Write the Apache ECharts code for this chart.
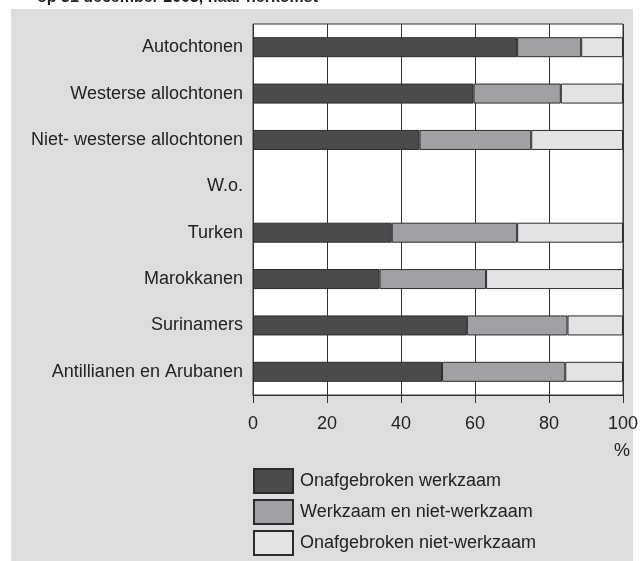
<!DOCTYPE html>
<html>
<head>
<meta charset="utf-8">
<script src="https://cdn.jsdelivr.net/npm/echarts@6/dist/echarts.min.js"></script>
<style>
  html, body { margin: 0; padding: 0; background: #fff; }
  #chart { width: 641px; height: 561px; }
</style>
</head>
<body>
<div id="chart"></div>
<script>
// herkomstgroepen, van boven naar beneden
const categories = [
  "Autochtonen",
  "Westerse allochtonen",
  "Niet- westerse allochtonen",
  "W.o.",
  "Turken",
  "Marokkanen",
  "Surinamers",
  "Antillianen en Arubanen"
]
// percentages (W.o. is alleen een kopje, geen balk)
const onafgebrokenWerkzaam = [71.4, 59.6, 45, null, 37.5, 34.2, 57.8, 51.1]
const werkzaamEnNiet = [17.3, 23.6, 30.2, null, 33.9, 28.8, 27.2, 33.3]
const onafgebrokenNiet = [11.3, 16.8, 24.8, null, 28.6, 37, 15, 15.6]
const xTicks = [0, 20, 40, 60, 80, 100]

const seriesNames = ["Onafgebroken werkzaam", "Werkzaam en niet-werkzaam", "Onafgebroken niet-werkzaam"]
const colors = ["#4a4b4d", "#a0a1a4", "#e2e3e5"]

const chart = echarts.init(document.getElementById("chart"))

function barSeries(name, data, color) {
  return {
    name: name,
    type: "bar",
    stack: "totaal",
    barWidth: 20,
    data: data,
    itemStyle: { color: color, borderColor: "#2b2b2b", borderWidth: 1 },
    emphasis: { disabled: true }
  }
}

// één legenda per reeks, onder elkaar
function legendItem(name, top) {
  return {
    left: 253, top: top,
    padding: 0,
    itemWidth: 39, itemHeight: 24,
    icon: "rect",
    data: [name],
    textStyle: { fontSize: 18, color: "#222", padding: [0, 0, 0, 2] },
    selectedMode: false
  }
}

chart.setOption({
  animation: false,
  textStyle: { fontFamily: "Liberation Sans, Arial, sans-serif" },
  graphic: [
    {
      type: "rect", z: -10, silent: true,
      shape: { x: 11, y: 9, width: 622, height: 552 },
      style: { fill: "#dcdddf" }
    },
    {
      type: "text", left: 37, top: -10,
      style: { text: "op 31 december 2003, naar herkomst", font: "bold 16px Liberation Sans, Arial", fill: "#222" }
    },
    {
      type: "text", right: 11, top: 442,
      style: { text: "%", font: "18px Liberation Sans, Arial", fill: "#222" }
    }
  ],
  grid: {
    left: 253, right: 18, top: 24, bottom: 166,
    show: true, backgroundColor: "#fff", borderColor: "#333", borderWidth: 1
  },
  legend: [
    legendItem(seriesNames[0], 468),
    legendItem(seriesNames[1], 499),
    legendItem(seriesNames[2], 530)
  ],
  xAxis: {
    type: "value",
    min: xTicks[0], max: xTicks[xTicks.length - 1], interval: 20,
    axisLine: { show: true, lineStyle: { color: "#333" } },
    axisTick: { show: true, length: 8, lineStyle: { color: "#333" } },
    axisLabel: { fontSize: 18, color: "#222", margin: 20 },
    splitLine: { show: true, lineStyle: { color: "#333", width: 1 } }
  },
  yAxis: {
    type: "category",
    inverse: true,
    data: categories,
    axisLine: { show: false },
    axisTick: { show: false },
    axisLabel: { fontSize: 18, color: "#222", margin: 10 },
    splitLine: { show: false }
  },
  series: [
    barSeries(seriesNames[0], onafgebrokenWerkzaam, colors[0]),
    barSeries(seriesNames[1], werkzaamEnNiet, colors[1]),
    barSeries(seriesNames[2], onafgebrokenNiet, colors[2])
  ]
})
</script>
</body>
</html>
